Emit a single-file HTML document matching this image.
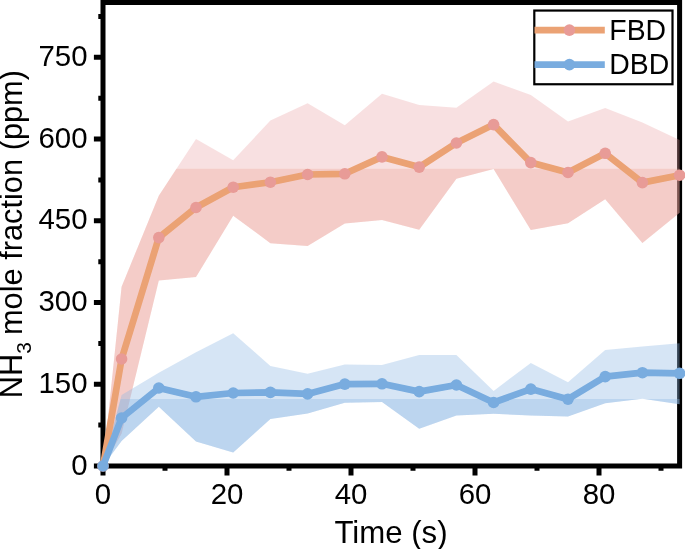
<!DOCTYPE html>
<html><head><meta charset="utf-8"><style>
html,body{margin:0;padding:0;background:#fff;width:685px;height:549px;overflow:hidden}
svg{display:block;will-change:transform}
text{font-family:"Liberation Sans",sans-serif;fill:#000}
</style></head><body>
<svg width="685" height="549" viewBox="0 0 685 549">
<defs>
<clipPath id="cp"><rect x="0" y="168.8" width="685" height="549"/></clipPath>
<clipPath id="cb"><rect x="0" y="399.1" width="685" height="549"/></clipPath>
</defs>

<g stroke="#000" stroke-width="5.0" fill="none" stroke-linecap="square">
<path d="M103.0,2.5 H679.6 V466.0 H103.0 Z" stroke-linecap="square" stroke-linejoin="miter"/>
</g>
<path d="M103.0,466.0 H93.9 M103.0,425.1 H98.3 M103.0,384.3 H93.9 M103.0,343.4 H98.3 M103.0,302.5 H93.9 M103.0,261.7 H98.3 M103.0,220.8 H93.9 M103.0,179.9 H98.3 M103.0,139.1 H93.9 M103.0,98.2 H98.3 M103.0,57.3 H93.9 M103.0,16.5 H98.3 M103.0,466.0 V475.4 M165.0,466.0 V470.7 M227.0,466.0 V475.4 M289.0,466.0 V470.7 M351.0,466.0 V475.4 M413.0,466.0 V470.7 M475.0,466.0 V475.4 M537.0,466.0 V470.7 M599.0,466.0 V475.4 M661.0,466.0 V470.7" stroke="#000" stroke-width="5.0" fill="none"/>
<text transform="translate(87.5,474.6) scale(1,1.020)" font-size="29.4" text-anchor="end">0</text>
<text transform="translate(87.5,392.9) scale(1,1.020)" font-size="29.4" text-anchor="end">150</text>
<text transform="translate(87.5,311.1) scale(1,1.020)" font-size="29.4" text-anchor="end">300</text>
<text transform="translate(87.5,229.4) scale(1,1.020)" font-size="29.4" text-anchor="end">450</text>
<text transform="translate(87.5,147.7) scale(1,1.020)" font-size="29.4" text-anchor="end">600</text>
<text transform="translate(87.5,65.9) scale(1,1.020)" font-size="29.4" text-anchor="end">750</text>
<text transform="translate(103.0,504.0) scale(1,1.020)" font-size="29.4" text-anchor="middle">0</text>
<text transform="translate(227.0,504.0) scale(1,1.020)" font-size="29.4" text-anchor="middle">20</text>
<text transform="translate(351.0,504.0) scale(1,1.020)" font-size="29.4" text-anchor="middle">40</text>
<text transform="translate(475.0,504.0) scale(1,1.020)" font-size="29.4" text-anchor="middle">60</text>
<text transform="translate(599.0,504.0) scale(1,1.020)" font-size="29.4" text-anchor="middle">80</text>
<text x="391" y="542.7" font-size="31.2" text-anchor="middle">Time (s)</text>
<text transform="translate(22.4,398.2) rotate(-90)" font-size="30.77">NH<tspan font-size="21" dy="8.2">3</tspan><tspan dy="-8.2" dx="-1.5"> mole fraction (ppm)</tspan></text>
<path d="M103.0,466.0 L121.6,286.8 L158.8,195.7 L196.0,138.9 L233.2,160.3 L270.4,120.5 L307.6,103.3 L344.8,125.2 L382.0,93.8 L419.2,105.0 L456.4,107.7 L493.6,81.5 L530.8,95.1 L568.0,121.4 L605.2,108.1 L642.4,122.6 L679.6,140.0 L679.6,212.8 L642.4,242.9 L605.2,199.2 L568.0,223.2 L530.8,230.0 L493.6,169.1 L456.4,178.7 L419.2,229.8 L382.0,219.9 L344.8,223.5 L307.6,245.9 L270.4,243.2 L233.2,215.8 L196.0,277.0 L158.8,280.6 L121.6,433.5 L103.0,466.0 Z" fill="#E99EA1" fill-opacity="0.320"/>
<path d="M103.0,466.0 L121.6,286.8 L158.8,195.7 L196.0,138.9 L233.2,160.3 L270.4,120.5 L307.6,103.3 L344.8,125.2 L382.0,93.8 L419.2,105.0 L456.4,107.7 L493.6,81.5 L530.8,95.1 L568.0,121.4 L605.2,108.1 L642.4,122.6 L679.6,140.0 L679.6,212.8 L642.4,242.9 L605.2,199.2 L568.0,223.2 L530.8,230.0 L493.6,169.1 L456.4,178.7 L419.2,229.8 L382.0,219.9 L344.8,223.5 L307.6,245.9 L270.4,243.2 L233.2,215.8 L196.0,277.0 L158.8,280.6 L121.6,433.5 L103.0,466.0 Z" fill="#EBA193" fill-opacity="0.320" clip-path="url(#cp)"/>
<path d="M103.0,466.0 L121.6,395.0 L158.8,372.7 L196.0,352.3 L233.2,333.2 L270.4,365.9 L307.6,373.8 L344.8,364.5 L382.0,365.1 L419.2,355.0 L456.4,355.0 L493.6,391.0 L530.8,362.9 L568.0,382.3 L605.2,350.1 L642.4,346.5 L679.6,343.2 L679.6,404.2 L642.4,398.7 L605.2,403.3 L568.0,416.4 L530.8,415.6 L493.6,413.7 L456.4,415.6 L419.2,428.7 L382.0,402.0 L344.8,402.8 L307.6,413.4 L270.4,418.9 L233.2,452.5 L196.0,441.6 L158.8,406.7 L121.6,441.0 L103.0,466.0 Z" fill="#8CB8E4" fill-opacity="0.360"/>
<path d="M103.0,466.0 L121.6,395.0 L158.8,372.7 L196.0,352.3 L233.2,333.2 L270.4,365.9 L307.6,373.8 L344.8,364.5 L382.0,365.1 L419.2,355.0 L456.4,355.0 L493.6,391.0 L530.8,362.9 L568.0,382.3 L605.2,350.1 L642.4,346.5 L679.6,343.2 L679.6,404.2 L642.4,398.7 L605.2,403.3 L568.0,416.4 L530.8,415.6 L493.6,413.7 L456.4,415.6 L419.2,428.7 L382.0,402.0 L344.8,402.8 L307.6,413.4 L270.4,418.9 L233.2,452.5 L196.0,441.6 L158.8,406.7 L121.6,441.0 L103.0,466.0 Z" fill="#8CB8E4" fill-opacity="0.360" clip-path="url(#cb)"/>
<polyline points="103.0,466.0 121.6,359.0 158.8,237.6 196.0,207.5 233.2,187.2 270.4,182.2 307.6,174.5 344.8,173.8 382.0,156.9 419.2,167.1 456.4,143.0 493.6,124.6 530.8,162.6 568.0,172.5 605.2,153.3 642.4,182.6 679.6,175.2" fill="none" stroke="#EBA274" stroke-width="6.7" stroke-linejoin="round"/>
<circle cx="103.0" cy="466.0" r="5.8" fill="#E89B97"/>
<circle cx="121.6" cy="359.0" r="5.8" fill="#E89B97"/>
<circle cx="158.8" cy="237.6" r="5.8" fill="#E89B97"/>
<circle cx="196.0" cy="207.5" r="5.8" fill="#E89B97"/>
<circle cx="233.2" cy="187.2" r="5.8" fill="#E89B97"/>
<circle cx="270.4" cy="182.2" r="5.8" fill="#E89B97"/>
<circle cx="307.6" cy="174.5" r="5.8" fill="#E89B97"/>
<circle cx="344.8" cy="173.8" r="5.8" fill="#E89B97"/>
<circle cx="382.0" cy="156.9" r="5.8" fill="#E89B97"/>
<circle cx="419.2" cy="167.1" r="5.8" fill="#E89B97"/>
<circle cx="456.4" cy="143.0" r="5.8" fill="#E89B97"/>
<circle cx="493.6" cy="124.6" r="5.8" fill="#E89B97"/>
<circle cx="530.8" cy="162.6" r="5.8" fill="#E89B97"/>
<circle cx="568.0" cy="172.5" r="5.8" fill="#E89B97"/>
<circle cx="605.2" cy="153.3" r="5.8" fill="#E89B97"/>
<circle cx="642.4" cy="182.6" r="5.8" fill="#E89B97"/>
<circle cx="679.6" cy="175.2" r="5.8" fill="#E89B97"/>
<polyline points="103.0,466.0 121.6,418.0 158.8,388.0 196.0,396.8 233.2,393.0 270.4,392.4 307.6,393.9 344.8,384.1 382.0,383.8 419.2,391.6 456.4,385.0 493.6,402.5 530.8,389.1 568.0,399.2 605.2,376.6 642.4,372.7 679.6,373.3" fill="none" stroke="#79ACDF" stroke-width="6.7" stroke-linejoin="round"/>
<circle cx="103.0" cy="466.0" r="5.8" fill="#79ACDF"/>
<circle cx="121.6" cy="418.0" r="5.8" fill="#79ACDF"/>
<circle cx="158.8" cy="388.0" r="5.8" fill="#79ACDF"/>
<circle cx="196.0" cy="396.8" r="5.8" fill="#79ACDF"/>
<circle cx="233.2" cy="393.0" r="5.8" fill="#79ACDF"/>
<circle cx="270.4" cy="392.4" r="5.8" fill="#79ACDF"/>
<circle cx="307.6" cy="393.9" r="5.8" fill="#79ACDF"/>
<circle cx="344.8" cy="384.1" r="5.8" fill="#79ACDF"/>
<circle cx="382.0" cy="383.8" r="5.8" fill="#79ACDF"/>
<circle cx="419.2" cy="391.6" r="5.8" fill="#79ACDF"/>
<circle cx="456.4" cy="385.0" r="5.8" fill="#79ACDF"/>
<circle cx="493.6" cy="402.5" r="5.8" fill="#79ACDF"/>
<circle cx="530.8" cy="389.1" r="5.8" fill="#79ACDF"/>
<circle cx="568.0" cy="399.2" r="5.8" fill="#79ACDF"/>
<circle cx="605.2" cy="376.6" r="5.8" fill="#79ACDF"/>
<circle cx="642.4" cy="372.7" r="5.8" fill="#79ACDF"/>
<circle cx="679.6" cy="373.3" r="5.8" fill="#79ACDF"/>
<rect x="534.3" y="10.55" width="138.2" height="73.7" fill="#fff" stroke="#000" stroke-width="2.2"/>
<line x1="534.5" y1="30.1" x2="604.8" y2="30.1" stroke="#EBA274" stroke-width="6.7"/>
<circle cx="569.4" cy="30.1" r="5.8" fill="#E89B97"/>
<line x1="534.5" y1="64.6" x2="604.8" y2="64.6" stroke="#79ACDF" stroke-width="6.7"/>
<circle cx="569.4" cy="64.6" r="5.8" fill="#79ACDF"/>
<text transform="translate(609.3,39.8) scale(1,1.020)" font-size="28.4">FBD</text>
<text transform="translate(609.3,73.5) scale(1,1.020)" font-size="28.4">DBD</text>
</svg>
</body></html>
